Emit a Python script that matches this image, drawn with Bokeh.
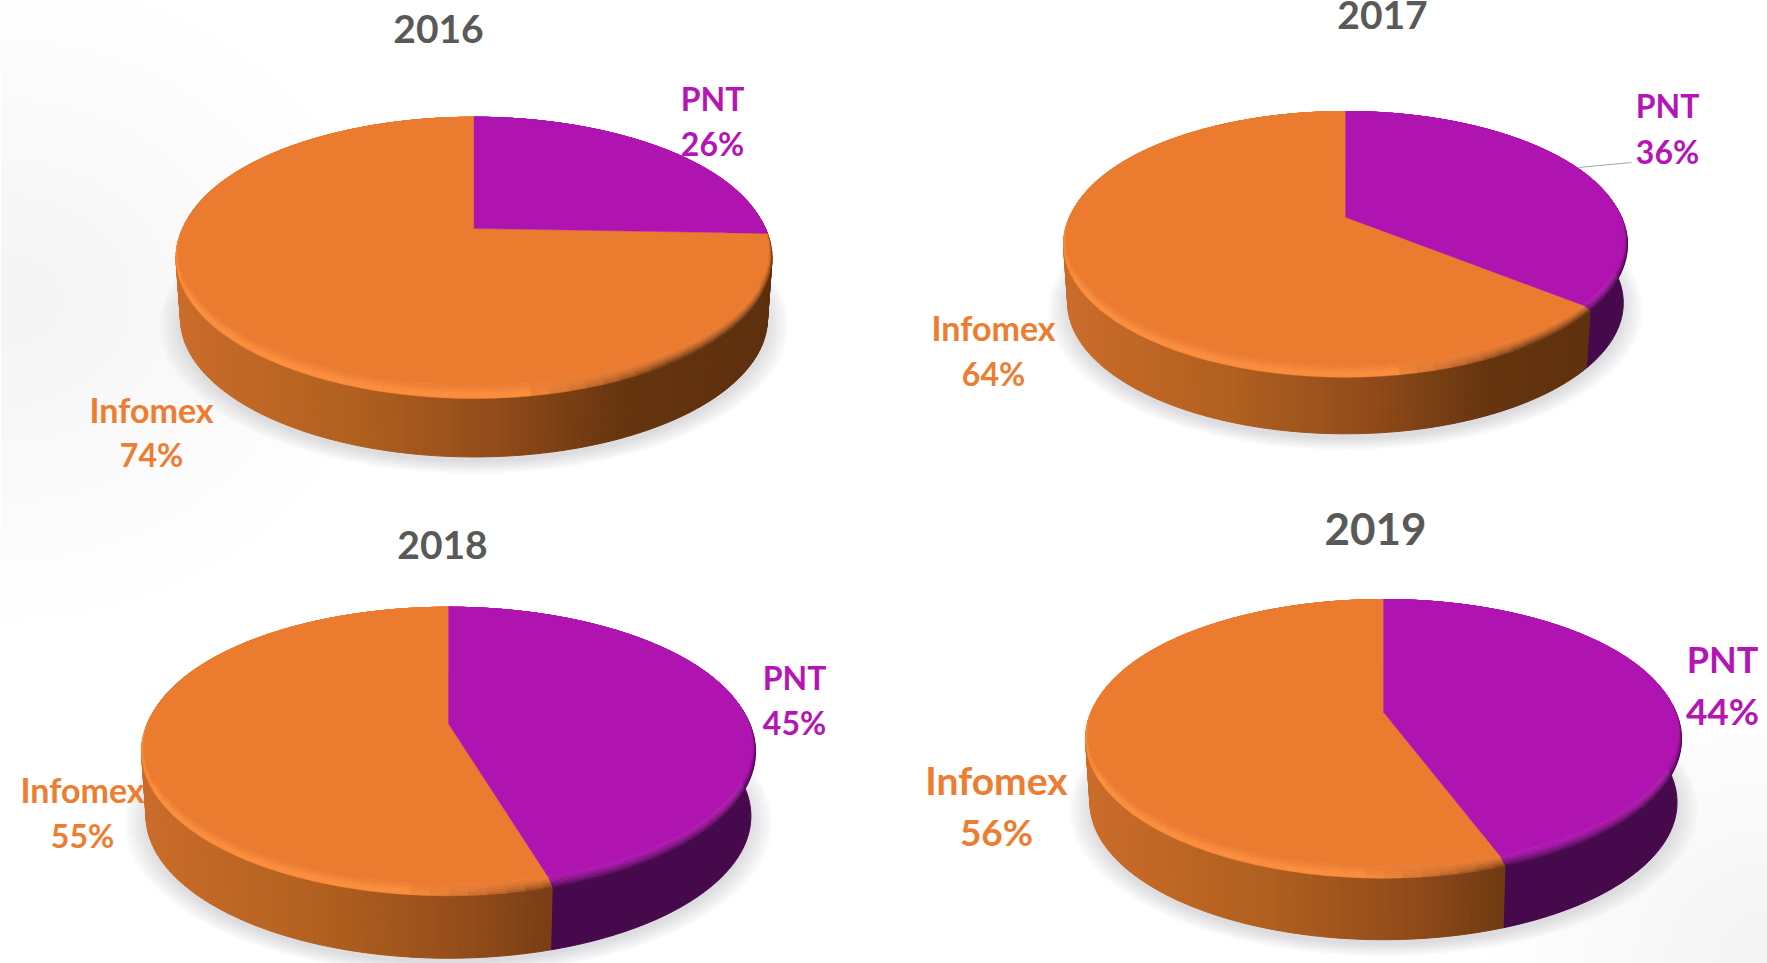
import numpy as np
from bokeh.plotting import figure
from bokeh.embed import file_html
from bokeh.resources import INLINE
from bokeh.core.properties import value

# ---- data ----
years = ["2016", "2017", "2018", "2019"]
series_names = ["PNT", "Infomex"]
pnt_share = [26, 36, 45, 44]
infomex_share = [74, 64, 55, 56]

# ---- styles ----
FACE = {"PNT": "#B014B0", "Infomex": "#EA7B2F"}
TEXT = {"PNT": "#B515B5", "Infomex": "#ED7D31"}
TITLE = "#595959"
HILITE = "#FC8B38"
WALL_PNT = "#46094C"
WALL_STOPS = [(0.0, "#CB6C2A"), (0.3, "#B0601F"), (0.55, "#904A1A"), (0.75, "#66350F"), (1.0, "#5E2F0E")]
FONT = "Lato"

# ---- layout, in page pixels ----
W, H = 1767, 963
# cx, apex y, above, below (outer), bevel, half width, wall drop, view twist of the slice edge (deg)
GEOM = [
    (473.5, 228.0, 111.3, 170, 13, 298, 61, -1.5),
    (1345.0, 216.7, 105.7, 160, 12, 282, 59, 0.0),
    (448.0, 723.3, 116.6, 172, 12, 307, 65, 1.7),
    (1383.0, 711.7, 112.7, 166, 12, 298, 64, 1.7),
]
TITLE_POS = [(438, 28, 39), (1382, 14, 39), (442, 544, 39), (1375, 528, 44)]
# name x, name y, name font size, pct font size, pct y
LABEL_POS = [
    {"PNT": (712, 98, 32, 32, 143), "Infomex": (151, 409, 34, 32, 454)},
    {"PNT": (1667, 105, 32, 32, 151), "Infomex": (993, 327, 34, 32, 373)},
    {"PNT": (794, 677, 32, 32, 722), "Infomex": (82, 789, 34, 32, 835)},
    {"PNT": (1722, 658, 36, 37, 710), "Infomex": (996, 779, 39, 37, 831)},
]
LEADER = ([1578, 1631], [167, 162])


def hex2rgb(c):
    return np.array([int(c[i:i + 2], 16) for i in (1, 3, 5)], dtype=float)


def rgb2hex(v):
    return "#%02X%02X%02X" % tuple(int(round(max(0, min(255, x)))) for x in v)


def mix(c1, c2, t):
    return rgb2hex(hex2rgb(c1) * (1 - t) + hex2rgb(c2) * t)


def wall_orange(f):
    f = max(0.0, min(1.0, f))
    for (f0, c0), (f1, c1) in zip(WALL_STOPS, WALL_STOPS[1:]):
        if f <= f1:
            return mix(c0, c1, (f - f0) / (f1 - f0))
    return WALL_STOPS[-1][1]


def disc(g, theta, level="outer", drop=0.0, shrink=1.0):
    """Perspective view of a circle: theta in degrees clockwise from 12 o'clock."""
    cx, ay, above, below, bevel, rx, _, _ = g
    if level == "inner":
        below = below - bevel
        rx = rx - 3
    k = (below - above) / (below + above)
    b = above * (1 + k)
    a = rx * np.sqrt(1 - k * k)
    th = np.radians(theta)
    X, Y = np.sin(th), np.cos(th)
    d = 1 + k * Y
    return cx + shrink * a * X / d, ay + drop - shrink * b * Y / d


p = figure(width=W, height=H, x_range=(0, W), y_range=(H, 0),
           output_backend="svg", toolbar_location=None, min_border=0,
           background_fill_color="#FFFFFF", border_fill_color="#FFFFFF")
p.axis.visible = False
p.grid.visible = False
p.outline_line_color = None

# faint page shading
for i in range(10):
    p.ellipse(x=[0], y=[300], width=[760 - i * 70], height=[640 - i * 60],
              fill_color="#000000", fill_alpha=0.003, line_color=None)
    p.ellipse(x=[W], y=[H], width=[560 - i * 50], height=[560 - i * 50],
              fill_color="#000000", fill_alpha=0.003, line_color=None)

for idx, g in enumerate(GEOM):
    cx, ay, above, below, bevel, rx, wall, twist = g
    edge = pnt_share[idx] / (pnt_share[idx] + infomex_share[idx]) * 360.0 + twist

    # soft shadow under the disc
    angs = np.arange(0, 360, 4.0)
    for grow, alpha in [(1.07, 0.10), (1.06, 0.10), (1.05, 0.12), (1.04, 0.12), (1.03, 0.14), (1.02, 0.18), (1.01, 0.2), (1.0, 0.25)]:
        sx, sy = disc(g, angs, "outer", drop=wall + 5, shrink=grow * 0.985)
        p.patch(sx, sy, fill_color="#D2D2D6", fill_alpha=alpha, line_color=None)

    # side wall, painted as bands (dark series as one piece)
    step = 1.5
    th = np.arange(max(edge, 70), 292, step)
    xs, ys, cols = [], [], []
    for t0, t1 in zip(th, th + step):
        x0, y0 = disc(g, np.array([t0, t1]), "outer")
        x1, y1 = disc(g, np.array([t1, t0]), "outer", drop=wall, shrink=0.985)
        xs.append(list(x0) + list(x1))
        ys.append(list(y0) + list(y1))
        f = (x0.mean() - (cx - rx)) / (2 * rx)
        cols.append(wall_orange(f))
    if edge > 70:
        ang = np.r_[np.arange(70, edge, 1.0), edge]
        x0, y0 = disc(g, ang, "outer")
        x1, y1 = disc(g, ang[::-1], "outer", drop=wall, shrink=0.985)
        p.patch(np.r_[x0, x1], np.r_[y0, y1], fill_color=WALL_PNT, line_color=WALL_PNT, line_width=1.0)
    p.patches(xs, ys, fill_color=cols, line_color=cols, line_width=1.0)

    # bevel ring between the flat face and the outer edge, split exactly at the slice edge
    rings = 7
    th = np.unique(np.r_[np.arange(0, 360.1, 3.0), edge])
    xs, ys, cols = [], [], []
    for j in range(rings - 1, -1, -1):
        t0, t1 = j / rings, (j + 1) / rings
        for a0, a1 in zip(th[:-1], th[1:]):
            am = (a0 + a1) / 2
            ang = np.array([a0, a1])
            ix, iy = disc(g, ang, "inner")
            ox, oy = disc(g, ang, "outer")
            x_in = ix + (ox - ix) * t0
            y_in = iy + (oy - iy) * t0
            x_out = ix + (ox - ix) * t1
            y_out = iy + (oy - iy) * t1
            xs.append(list(x_in) + list(x_out[::-1]))
            ys.append(list(y_in) + list(y_out[::-1]))
            f = (x_in.mean() - (cx - rx)) / (2 * rx)
            Y = np.cos(np.radians(am))
            front = float(np.clip((0.35 - Y) / 0.5, 0, 1))
            name = "PNT" if am < edge else "Infomex"
            tm = (t0 + t1) / 2
            if name == "PNT":
                edge_col = mix(FACE["PNT"], WALL_PNT, front)
                cols.append(mix(FACE[name], edge_col, tm ** 1.5))
            else:
                dark = float(np.clip((f - 0.58) / 0.25, 0, 1))
                dark = max(dark, float(np.clip(1 - (am - edge) / 22.0, 0, 1)))
                edge_col = mix(mix(FACE["Infomex"], HILITE, front), wall_orange(f), dark * front)
                cols.append(mix(FACE[name], edge_col, min(1.0, tm * 1.6) if dark == 0 else tm ** 1.5))
    p.patches(xs, ys, fill_color=cols, line_color=cols, line_width=0.5)

    # flat top: one sector per series
    a_p = np.linspace(0, edge, 80)
    a_i = np.linspace(edge, 360, 160)
    for name, ang in (("Infomex", a_i), ("PNT", a_p)):
        sx, sy = disc(g, ang, "inner")
        p.patch(np.r_[cx, sx], np.r_[ay, sy], fill_color=FACE[name], line_color=FACE[name], line_width=0.4)

# leader line of 2017
p.line(LEADER[0], LEADER[1], line_color="#A6A6A6", line_width=1.2)

# texts
for idx, year in enumerate(years):
    tx, ty, ts = TITLE_POS[idx]
    p.text([tx], [ty], text=[year], text_font=value(FONT), text_font_style="bold",
           text_font_size=f"{ts}px", text_color=TITLE, text_align="center", text_baseline="middle")
    for name, share in (("PNT", pnt_share[idx]), ("Infomex", infomex_share[idx])):
        lx, ly1, fs1, fs2, ly2 = LABEL_POS[idx][name]
        p.text([lx], [ly1], text=[name], text_font=value(FONT), text_font_style="bold",
               text_font_size=f"{fs1}px", text_color=TEXT[name], text_align="center", text_baseline="middle")
        p.text([lx], [ly2], text=[f"{share}%"], text_font=value(FONT), text_font_style="bold",
               text_font_size=f"{fs2}px", text_color=TEXT[name], text_align="center", text_baseline="middle")

open("out.html", "w").write(file_html(p, INLINE))
